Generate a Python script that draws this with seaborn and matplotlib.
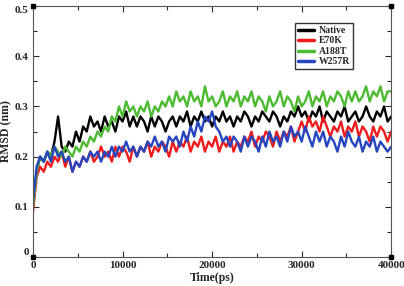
import numpy as np
import pandas as pd
import seaborn as sns
import matplotlib.pyplot as plt
from matplotlib.ticker import MultipleLocator

# RMSD traces, one value every 400 ps (0 .. 40000 ps)
native = [0.10, 0.17, 0.20, 0.19, 0.21, 0.20, 0.23, 0.28, 0.22, 0.21,
          0.23, 0.22, 0.25, 0.23, 0.26, 0.25, 0.28, 0.26, 0.27, 0.25,
          0.28, 0.26, 0.27, 0.25, 0.28, 0.27, 0.29, 0.26, 0.28, 0.26,
          0.28, 0.27, 0.25, 0.28, 0.26, 0.28, 0.27, 0.25, 0.27, 0.28,
          0.26, 0.28, 0.27, 0.29, 0.26, 0.28, 0.27, 0.29, 0.27, 0.28,
          0.26, 0.28, 0.27, 0.29, 0.27, 0.28, 0.26, 0.28, 0.27, 0.29,
          0.28, 0.26, 0.28, 0.27, 0.29, 0.28, 0.27, 0.29, 0.28, 0.26,
          0.28, 0.27, 0.29, 0.28, 0.30, 0.28, 0.29, 0.27, 0.29, 0.28,
          0.30, 0.27, 0.29, 0.28, 0.27, 0.29, 0.28, 0.30, 0.27, 0.28,
          0.29, 0.27, 0.28, 0.30, 0.28, 0.27, 0.29, 0.28, 0.30, 0.27,
          0.28]
e70k = [0.09, 0.16, 0.18, 0.17, 0.19, 0.18, 0.20, 0.19, 0.21, 0.18,
        0.20, 0.17, 0.19, 0.18, 0.20, 0.19, 0.21, 0.19, 0.20, 0.22,
        0.20, 0.21, 0.19, 0.22, 0.20, 0.22, 0.21, 0.19, 0.22, 0.20,
        0.22, 0.21, 0.23, 0.20, 0.22, 0.21, 0.23, 0.22, 0.20, 0.23,
        0.21, 0.23, 0.22, 0.24, 0.21, 0.23, 0.22, 0.24, 0.21, 0.23,
        0.22, 0.24, 0.21, 0.23, 0.22, 0.24, 0.21, 0.23, 0.22, 0.24,
        0.23, 0.25, 0.22, 0.24, 0.23, 0.25, 0.24, 0.22, 0.25, 0.23,
        0.25, 0.24, 0.26, 0.23, 0.25, 0.27, 0.25, 0.28, 0.26, 0.27,
        0.25, 0.28, 0.26, 0.24, 0.26, 0.25, 0.27, 0.24, 0.26, 0.25,
        0.27, 0.24, 0.26, 0.25, 0.23, 0.26, 0.24, 0.26, 0.25, 0.23,
        0.25]
a188t = [0.10, 0.17, 0.20, 0.19, 0.21, 0.20, 0.22, 0.21, 0.20, 0.22,
         0.21, 0.20, 0.22, 0.21, 0.23, 0.22, 0.24, 0.23, 0.25, 0.24,
         0.26, 0.25, 0.28, 0.27, 0.30, 0.28, 0.31, 0.29, 0.30, 0.28,
         0.30, 0.29, 0.31, 0.28, 0.30, 0.29, 0.31, 0.30, 0.32, 0.30,
         0.33, 0.31, 0.32, 0.30, 0.33, 0.31, 0.32, 0.30, 0.34, 0.31,
         0.32, 0.30, 0.31, 0.33, 0.30, 0.32, 0.31, 0.33, 0.30, 0.32,
         0.31, 0.33, 0.30, 0.32, 0.31, 0.29, 0.32, 0.30, 0.31, 0.33,
         0.30, 0.32, 0.31, 0.29, 0.32, 0.30, 0.31, 0.33, 0.30, 0.32,
         0.31, 0.33, 0.30, 0.32, 0.31, 0.33, 0.32, 0.30, 0.33, 0.31,
         0.33, 0.31, 0.32, 0.34, 0.31, 0.33, 0.32, 0.34, 0.31, 0.33,
         0.33]
w257r = [0.11, 0.18, 0.20, 0.19, 0.21, 0.19, 0.22, 0.20, 0.21, 0.19,
         0.20, 0.17, 0.19, 0.18, 0.20, 0.19, 0.21, 0.20, 0.21, 0.19,
         0.21, 0.20, 0.22, 0.20, 0.22, 0.21, 0.23, 0.21, 0.22, 0.20,
         0.22, 0.21, 0.23, 0.22, 0.24, 0.22, 0.23, 0.21, 0.24, 0.23,
         0.24, 0.22, 0.25, 0.23, 0.26, 0.24, 0.27, 0.25, 0.28, 0.27,
         0.29, 0.26, 0.25, 0.23, 0.24, 0.22, 0.24, 0.23, 0.21, 0.24,
         0.22, 0.24, 0.23, 0.21, 0.24, 0.22, 0.25, 0.23, 0.24, 0.22,
         0.25, 0.23, 0.26, 0.24, 0.25, 0.23, 0.26, 0.24, 0.22, 0.25,
         0.23, 0.25, 0.22, 0.24, 0.23, 0.21, 0.24, 0.22, 0.25, 0.23,
         0.22, 0.24, 0.21, 0.23, 0.22, 0.24, 0.21, 0.23, 0.22, 0.21,
         0.22]

names = ["Native", "E70K", "A188T", "W257R"]
colors = ["#000000", "#ee1c1c", "#4cbb32", "#2646c0"]
t_max = 40000
y_max = 0.5

frames = []
for name, vals in zip(names, [native, e70k, a188t, w257r]):
    t = np.linspace(0, t_max, len(vals))
    frames.append(pd.DataFrame({"Time": t, "RMSD": vals, "Mutant": name}))
df = pd.concat(frames, ignore_index=True)

sns.set_style("ticks")
plt.rcParams["font.family"] = ["Liberation Serif", "DejaVu Serif"]
plt.rcParams["font.weight"] = "bold"

fig = plt.figure(figsize=(4.04, 2.86), dpi=100)
ax = fig.add_axes([0.0817, 0.101, 0.8866, 0.878])

sns.lineplot(data=df, x="Time", y="RMSD", hue="Mutant", hue_order=names,
             palette=colors, estimator=None, linewidth=1.7, ax=ax)

ax.set_xlim(0, t_max)
ax.set_ylim(0, y_max)
ax.xaxis.set_major_locator(MultipleLocator(10000))
ax.xaxis.set_minor_locator(MultipleLocator(5000))
ax.yaxis.set_minor_locator(MultipleLocator(0.05))
ax.set_yticks([0, 0.1, 0.2, 0.3, 0.4, 0.5])
ax.set_yticklabels(["0", "0.1", "0.2", "0.3", "0.4", "0.5"])
ax.tick_params(which="both", direction="in", top=True, right=True,
               labelsize=8, pad=3)
ax.tick_params(which="major", length=4, width=0.8)
ax.tick_params(which="minor", length=3, width=0.8)
ax.tick_params(axis="x", labeltop=False)
ax.tick_params(axis="y", labelright=False)
for lab in ax.get_xticklabels() + ax.get_yticklabels():
    lab.set_fontweight("bold")
ylabs = ax.get_yticklabels()
ylabs[0].set_va("bottom")
ylabs[-1].set_va("top")
for s in ax.spines.values():
    s.set_linewidth(0.8)
    s.set_color("#555555")

ax.set_xlabel("Time(ps)", fontsize=8.5, fontweight="bold", labelpad=1)
ax.set_ylabel("RMSD (nm)", fontsize=8.5, fontweight="bold")
ax.yaxis.set_label_coords(-0.058, 0.5)

# small corner squares like the Grace output
ax.plot([0, t_max, t_max, 0], [0, 0, y_max, y_max], ls="none", marker="s",
        ms=3.5, color="black", clip_on=False, zorder=5)

leg = ax.legend(loc="upper left", bbox_to_anchor=(0.732, 0.932), fontsize=7,
                frameon=True, fancybox=False, handlelength=1.6,
                handletextpad=0.5, labelspacing=0.15, borderpad=0.3,
                borderaxespad=0)
leg.get_frame().set_edgecolor("black")
leg.get_frame().set_linewidth(1.0)
for line in leg.get_lines():
    line.set_linewidth(2.5)
for txt in leg.get_texts():
    txt.set_fontweight("bold")

fig.savefig("out.png", dpi=100)
